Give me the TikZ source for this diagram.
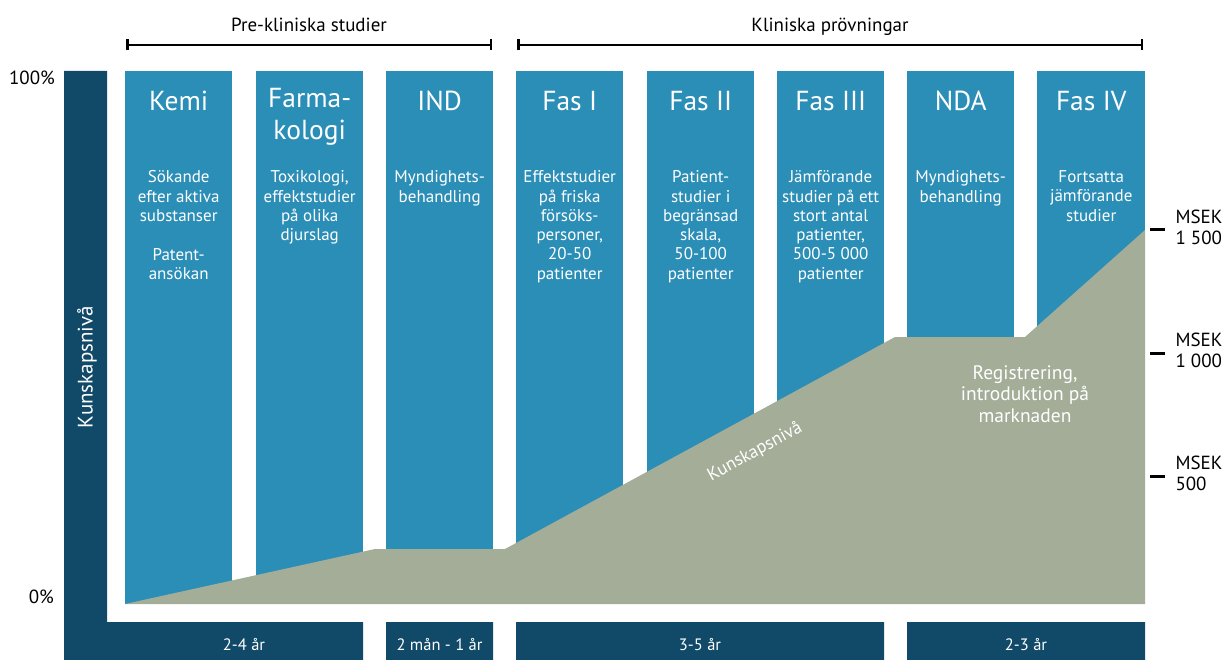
\documentclass[tikz,border=0pt]{standalone}
\usepackage{fontspec}
\setmainfont{PT Sans}
\usetikzlibrary{positioning,arrows.meta}
\definecolor{fasblue}{RGB}{43,142,183}
\definecolor{morkblue}{RGB}{17,73,104}
\definecolor{kunskap}{RGB}{164,173,152}

\begin{document}
\begin{tikzpicture}[x=1pt, y=-1pt, line join=round, font=\fontsize{17}{19.3}\selectfont]
	\tikzset{kolumn/.style={fill=fasblue, minimum width=107pt, minimum height=533pt, inner sep=0pt, anchor=north west},
		rubrik/.style={text=white, font=\fontsize{27.5}{32}\selectfont, align=center, anchor=north, inner sep=0pt, execute at begin node=\strut},
		kropp/.style={text=white, align=center, anchor=north, inner sep=0pt, execute at begin node=\strut},
		tidtext/.style={text=white, font=\fontsize{16.5}{18}\selectfont, anchor=base},
		etikett/.style={font=\fontsize{19}{22}\selectfont, anchor=base},
		msek/.style={font=\fontsize{19}{21}\selectfont, align=left, anchor=base west, inner sep=0pt}}
	\useasboundingbox (0,0) rectangle (1225,660);
	% axel och tidsstaplar
	\fill[morkblue] (64,71) rectangle (107,660) (64,622) rectangle (363,660)
		(386,622) rectangle (493,660) (516,622) rectangle (884,660) (907,622) rectangle (1145,660);
	% faser
	\node[kolumn] (kemi) at (125,71) {};
	\node[kolumn] (farma) at (256,71) {};
	\node[kolumn] (ind) at (386,71) {};
	\node[kolumn] (fas1) at (516,71) {};
	\node[kolumn] (fas2) at (647,71) {};
	\node[kolumn] (fas3) at (777,71) {};
	\node[kolumn] (nda) at (907,71) {};
	\node[kolumn, minimum width=108pt] (fas4) at (1037,71) {};
	% kunskapsnivå
	\fill[kunskap] (125,604) -- (375,549) -- (505,549) -- (895,337) -- (1025,337) -- (1145,230) -- (1145,604) -- cycle;
	% rubriker (strut 0.7*32 ovanför baslinjen 110)
	\node[rubrik] (kemi-r) at (kemi.north |- 0,87.6) {Kemi};
	\node[rubrik] (farma-r) at (farma.north |- 0,87.6) {Farma-\\kologi};
	\node[rubrik] (ind-r) at (ind.north |- 0,87.6) {IND};
	\node[rubrik] (fas1-r) at (fas1.north |- 0,87.6) {Fas I};
	\node[rubrik] (fas2-r) at (fas2.north |- 0,87.6) {Fas II};
	\node[rubrik] (fas3-r) at (fas3.north |- 0,87.6) {Fas III};
	\node[rubrik] (nda-r) at (nda.north |- 0,87.6) {NDA};
	\node[rubrik] (fas4-r) at (fas4.north |- 0,87.6) {Fas IV};
	% beskrivningar (baslinje 184)
	\node[kropp] (kemi-t) at (kemi.north |- 0,170.5) {Sökande\\efter aktiva\\substanser\\[19.3pt]Patent-\\ansökan};
	\node[kropp] (farma-t) at (farma.north |- 0,170.5) {Toxikologi,\\effektstudier\\på olika\\djurslag};
	\node[kropp] (ind-t) at (ind.north |- 0,170.5) {Myndighets-\\behandling};
	\node[kropp] (fas1-t) at (fas1.north |- 0,170.5) {Effektstudier\\på friska\\försöks-\\personer,\\20-50\\patienter};
	\node[kropp] (fas2-t) at (fas2.north |- 0,170.5) {Patient-\\studier i\\begränsad\\skala,\\50-100\\patienter};
	\node[kropp] (fas3-t) at (fas3.north |- 0,170.5) {Jämförande\\studier på ett\\stort antal\\patienter,\\500-5 000\\patienter};
	\node[kropp] (nda-t) at (nda.north |- 0,170.5) {Myndighets-\\behandling};
	\node[kropp] (fas4-t) at (fas4.north |- 0,170.5) {Fortsatta\\jämförande\\studier};
	% perioder
	\node[etikett] (pre) at (309,32) {Pre-kliniska studier};
	\node[etikett] (klin) at (830,32) {Kliniska prövningar};
	\draw[line width=2.5pt, {Bar[width=11pt]}-{Bar[width=11pt]}] (126,45) -- (492,45);
	\draw[line width=2.5pt, {Bar[width=11pt]}-{Bar[width=11pt]}] (517,45) -- (1143,45);
	% y-axel
	\node[etikett, anchor=base east, inner sep=0pt] (topp) at (55,85) {100\%};
	\node[etikett, anchor=base east, inner sep=0pt] (botten) at (54,603) {0\%};
	\node[etikett, text=white, anchor=center, font=\fontsize{21}{24}\selectfont, rotate=90] (axel) at (87,367) {Kunskapsnivå};
	\node[etikett, text=white, anchor=center, font=\fontsize{18}{21}\selectfont, rotate=28.5] (lutning) at (755,452) {Kunskapsnivå};
	\node[etikett, text=white, align=center, anchor=center, font=\fontsize{19.5}{21.5}\selectfont] (reg) at (1025,394) {Registrering,\\introduktion på\\marknaden};
	% tider
	\node[tidtext] (tid1) at (244,650) {2-4 år};
	\node[tidtext] (tid2) at (439.5,650) {2 mån - 1 år};
	\node[tidtext] (tid3) at (700,650) {3-5 år};
	\node[tidtext] (tid4) at (1026,650) {2-3 år};
	% kostnader
	\foreach \y/\v in {230/1 500, 353/1 000, 476/500}
		\draw[line width=3pt] (1150,\y) -- (1165,\y) node[msek, right=9pt, yshift=3pt] {MSEK\\\v};
\end{tikzpicture}
\end{document}
